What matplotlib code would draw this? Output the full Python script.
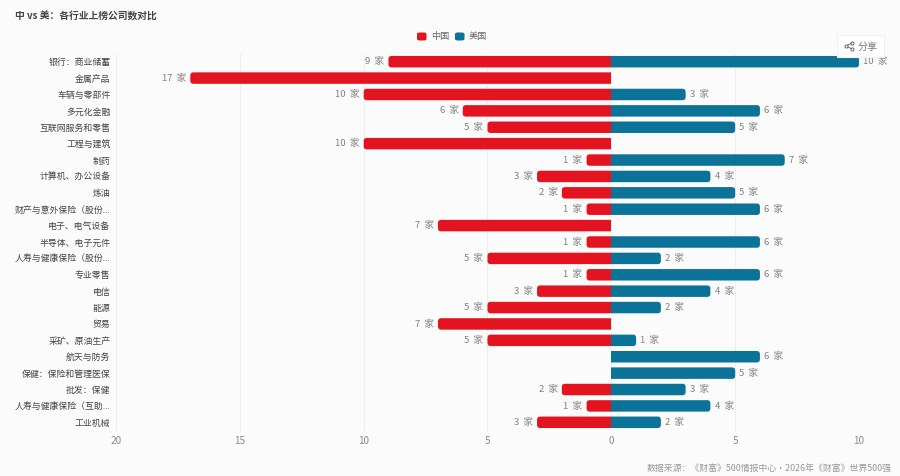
import numpy as np
import matplotlib
matplotlib.use('Agg')
from matplotlib import pyplot as plt
from matplotlib.lines import Line2D
from matplotlib.patches import FancyBboxPatch, Rectangle

plt.rcParams['font.family'] = ['Noto Sans CJK SC', 'DejaVu Sans']

categories = ['银行：商业储蓄', '金属产品', '车辆与零部件', '多元化金融', '互联网服务和零售',
              '工程与建筑', '制药', '计算机、办公设备', '炼油', '财产与意外保险（股份...',
              '电子、电气设备', '半导体、电子元件', '人寿与健康保险（股份...', '专业零售', '电信',
              '能源', '贸易', '采矿、原油生产', '航天与防务', '保健：保险和管理医保',
              '批发：保健', '人寿与健康保险（互助...', '工业机械']
china = [9, 17, 10, 6, 5, 10, 1, 3, 2, 1, 7, 1, 5, 1, 3, 5, 7, 5, 0, 0, 2, 1, 3]
usa = [10, 0, 3, 6, 5, 0, 7, 4, 5, 6, 0, 6, 2, 6, 4, 2, 0, 1, 6, 5, 3, 4, 2]
xticks = [-20, -15, -10, -5, 0, 5, 10]
xticklabels = ['20', '15', '10', '5', '0', '5', '10']

RED = '#e3141f'
BLUE = '#0b7398'
BG = '#fbfbfc'
W, H = 900, 476

fig = plt.figure(figsize=(W / 100, H / 100), dpi=100, facecolor=BG)

# 分享按钮放在坐标轴下面，数值标签不会被挡住
fig.add_artist(Rectangle((837 / W, 1 - 57 / H), 47 / W, 22 / H, transform=fig.transFigure,
                         fc='#ffffff', ec='#f0f0f2', lw=0.8))

ax = fig.add_axes([116 / W, 1 - 430.5 / H, (859 - 116) / W, (430.5 - 53.5) / H])
ax.patch.set_alpha(0)
ax.set_xlim(-20, 10)
ax.set_ylim(len(categories) - 0.5, -0.5)

aspect = (743 / 30) / (377 / 23)
bar_h = 0.7


# 只有外侧是圆角：圆角框多画过 0 一段，再裁掉
def rounded_bar(y, v, color):
    if v > 0:
        box_x, clip_x = -1, 0
    else:
        box_x, clip_x = v, v - 0.5
    box = FancyBboxPatch((box_x, y - bar_h / 2), abs(v) + 1, bar_h,
                         boxstyle='round,pad=0,rounding_size=0.13',
                         mutation_aspect=aspect, fc=color, ec='none', zorder=3)
    ax.add_patch(box)
    clip = Rectangle((clip_x, y - 1), abs(v) + 0.5, 2, transform=ax.transData)
    box.set_clip_path(clip)


for i in range(len(categories)):
    if china[i] > 0:
        rounded_bar(i, -china[i], RED)
        ax.text(-china[i] - 0.17, i, '%d  家' % china[i], ha='right', va='center',
                fontsize=6.8, color='#808080', zorder=4)
    if usa[i] > 0:
        rounded_bar(i, usa[i], BLUE)
        ax.text(usa[i] + 0.17, i, '%d  家' % usa[i], ha='left', va='center',
                fontsize=6.8, color='#808080', zorder=4, clip_on=False)

ax.set_xticks(xticks)
ax.set_xticklabels(xticklabels, fontsize=7.2, color='#8a8a8a')
ax.set_yticks(range(len(categories)))
ax.set_yticklabels(categories, fontsize=6.4, color='#444444')
ax.tick_params(axis='both', length=0)
ax.tick_params(axis='x', pad=4)
ax.tick_params(axis='y', pad=4)
ax.grid(axis='x', color='#eeeef0', lw=0.8, zorder=0)
ax.set_axisbelow(True)
for s in ax.spines.values():
    s.set_visible(False)

fig.text(15 / W, 1 - 17 / H, '中 vs 美：各行业上榜公司数对比', fontsize=7.05, color='#444444',
         fontweight='bold', ha='left', va='center')

# 图例
for x0, color, label in [(417, RED, '中国'), (455, BLUE, '美国')]:
    fig.add_artist(FancyBboxPatch((x0 / W, 1 - 40.5 / H), 9.5 / W, 8 / H,
                                  boxstyle='round,pad=0,rounding_size=0.003',
                                  transform=fig.transFigure, fc=color, ec='none'))
    fig.text((x0 + 14) / W, 1 - 36.5 / H, label, fontsize=6.6, color='#666666', ha='left', va='center')

# 分享图标
icon_x = [852, 846, 852]
icon_y = [43, 46, 49]
fig.add_artist(Line2D([v / W for v in icon_x], [1 - v / H for v in icon_y], transform=fig.transFigure,
                      color='#666666', lw=0.7, marker='o', ms=2.2, mfc='#ffffff', mew=0.7))
fig.text(858 / W, 1 - 46.5 / H, '分享', fontsize=7.2, color='#777777', ha='left', va='center')

fig.text(892 / W, 1 - 468 / H, '数据来源：《财富》500情报中心·2026年《财富》世界500强', fontsize=6.4,
         color='#999999', ha='right', va='center')

fig.savefig('out.png', dpi=100, facecolor=BG)
